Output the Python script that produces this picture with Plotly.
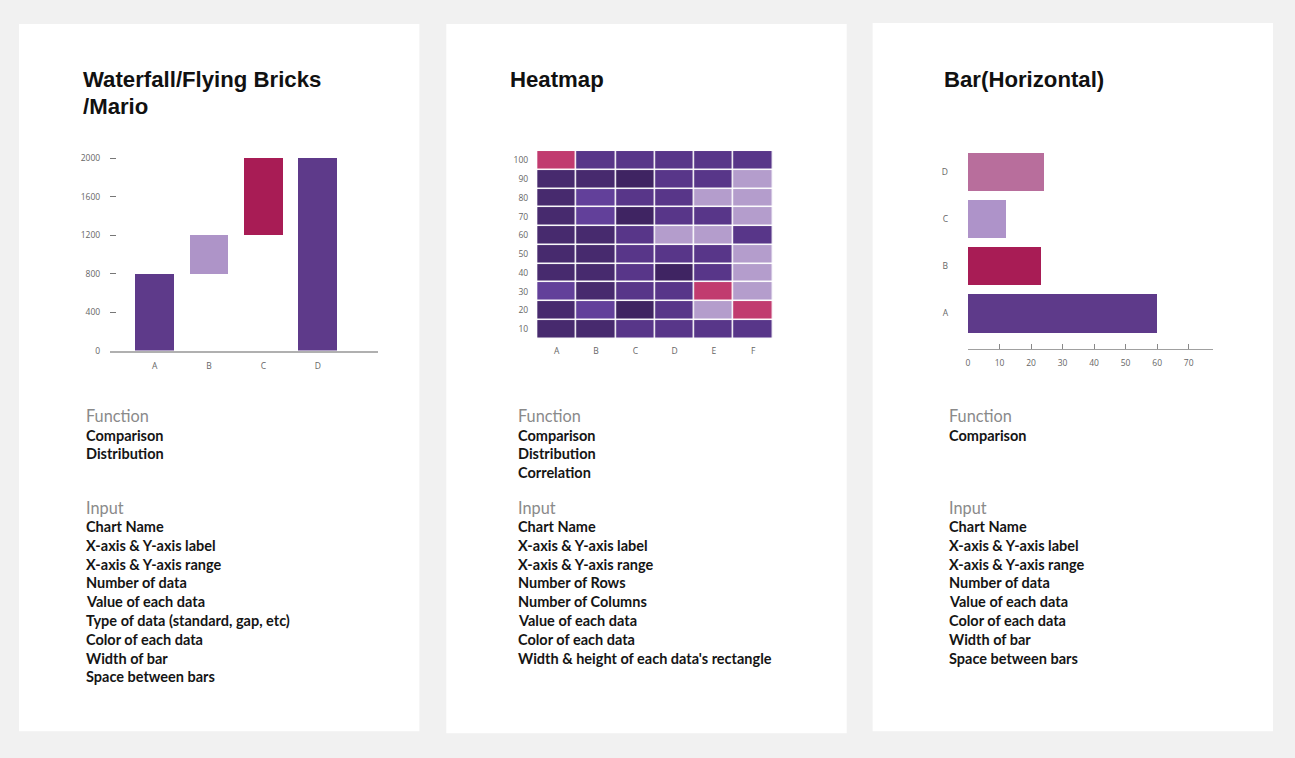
import plotly.graph_objects as go

# ---------------- data ----------------
wf_categories = ["A", "B", "C", "D"]
wf_measures = ["relative", "relative", "relative", "total"]
wf_values = [800, 400, 800, 0]
wf_colors = ["#5e3a8a", "#ae94c8", "#a81c55", "#5e3a8a"]
wf_yticks = [0, 400, 800, 1200, 1600, 2000]

hm_columns = ["A", "B", "C", "D", "E", "F"]
hm_rows = [10, 20, 30, 40, 50, 60, 70, 80, 90, 100]
# colour level of each cell (0 darkest purple ... 4 lavender, 5 pink), rows bottom (10) to top (100)
hm_r10 = [1, 1, 2, 2, 2, 2]
hm_r20 = [1, 3, 0, 2, 4, 5]
hm_r30 = [3, 1, 2, 2, 5, 4]
hm_r40 = [1, 1, 2, 0, 2, 4]
hm_r50 = [1, 1, 2, 2, 2, 4]
hm_r60 = [1, 1, 2, 4, 4, 2]
hm_r70 = [1, 3, 0, 2, 2, 4]
hm_r80 = [1, 3, 2, 2, 4, 4]
hm_r90 = [1, 1, 0, 2, 2, 4]
hm_r100 = [5, 2, 2, 2, 2, 2]
hm_level_colors = ["#3f2462", "#472a6e", "#583689", "#62409a", "#b49dcc", "#c13b6f"]

hb_categories = ["A", "B", "C", "D"]
hb_values = [60, 23, 12, 24]
hb_colors = ["#5e3a8a", "#a81c55", "#ae93c9", "#b86e9c"]

titles = [["Waterfall/Flying Bricks", "/Mario"], ["Heatmap"], ["Bar(Horizontal)"]]
functions = [["Comparison", "Distribution"],
             ["Comparison", "Distribution", "Correlation"],
             ["Comparison"]]
inputs = [["Chart Name", "X-axis & Y-axis label", "X-axis & Y-axis range", "Number of data",
           "Value of each data", "Type of data (standard, gap, etc)", "Color of each data",
           "Width of bar", "Space between bars"],
          ["Chart Name", "X-axis & Y-axis label", "X-axis & Y-axis range", "Number of Rows",
           "Number of Columns", "Value of each data", "Color of each data",
           "Width & height of each data's rectangle"],
          ["Chart Name", "X-axis & Y-axis label", "X-axis & Y-axis range", "Number of data",
           "Value of each data", "Color of each data", "Width of bar", "Space between bars"]]

# ---------------- layout helpers ----------------
W, H = 1295, 758
K = 0.9932  # vertical correction of the capture
def fx(x):
    return x / W
def fy(y):
    return 1 - (y / K) / H

fig = go.Figure()

# waterfall built from measures
bases, heights = [], []
running = 0
for m, v in zip(wf_measures, wf_values):
    if m == "total":
        bases.append(0)
        heights.append(running)
    else:
        bases.append(running)
        heights.append(v)
        running += v

fig.add_trace(go.Bar(x=wf_categories, y=heights, base=bases, width=0.71,
                     marker=dict(color=wf_colors, line=dict(width=0)),
                     xaxis="x", yaxis="y", showlegend=False, hoverinfo="skip"))

hm_z = [hm_r10, hm_r20, hm_r30, hm_r40, hm_r50, hm_r60, hm_r70, hm_r80, hm_r90, hm_r100]
n = len(hm_level_colors)
cs = []
for i, c in enumerate(hm_level_colors):
    cs.append([i / n, c])
    cs.append([(i + 1) / n, c])
fig.add_trace(go.Heatmap(z=hm_z, x=hm_columns, y=hm_rows, colorscale=cs,
                         zmin=-0.5, zmax=n - 0.5, showscale=False, xgap=1.5, ygap=1.5,
                         xaxis="x2", yaxis="y2", hoverinfo="skip"))

fig.add_trace(go.Bar(y=hb_categories, x=hb_values, orientation="h", width=0.82,
                     marker=dict(color=hb_colors, line=dict(width=0)),
                     xaxis="x3", yaxis="y3", showlegend=False, hoverinfo="skip"))

tickfont = dict(family="Open Sans", size=8.5, color="#666666")

# waterfall axes: plot px x 108-377, y 150-350.5 ; 0->350.5, 2000->158.3
wf_px_per = (350.5 - 158.3) / 2000
wf_top = 2000 + (158.3 - 150) / wf_px_per
hb_x0 = 967.5
fig.update_layout(
    xaxis=dict(domain=[fx(108.3), fx(376.7)], range=[-0.817, 4.11], showgrid=False,
               zeroline=False, showline=True, linecolor="#b0b0b0", linewidth=1.5,
               ticks="", tickfont=tickfont, anchor="y", ticklabelstandoff=6,
               type="category"),
    yaxis=dict(domain=[fy(350.5), fy(150)], range=[0, wf_top], showgrid=False,
               zeroline=False, showline=False, tickvals=wf_yticks, ticks="inside",
               ticklen=6, tickcolor="#777777", tickwidth=1, tickfont=tickfont,
               anchor="x", ticklabelstandoff=9),
    xaxis2=dict(domain=[fx(536), fx(772)], range=[-0.5, 5.5], showgrid=False, zeroline=False,
                showline=False, ticks="", tickfont=tickfont, anchor="y2",
                ticklabelstandoff=6),
    yaxis2=dict(domain=[fy(338.5), fy(151)], range=[5, 105], showgrid=False, zeroline=False,
                showline=False, ticks="", tickvals=hm_rows, tickfont=tickfont, anchor="x2",
                ticklabelstandoff=8),
    xaxis3=dict(domain=[fx(hb_x0), fx(1213)], range=[0, (1213 - hb_x0) / 3.157],
                showgrid=False, zeroline=False, showline=True, linecolor="#a0a0a0",
                linewidth=1, ticks="inside", ticklen=5, tickcolor="#888888", tickwidth=1,
                dtick=10, tick0=0, tickfont=tickfont, anchor="y3", ticklabelstandoff=6),
    yaxis3=dict(domain=[fy(349), fy(145)], range=[-0.76, 3.57], showgrid=False,
                zeroline=False, showline=False, ticks="", tickfont=tickfont,
                anchor="x3", ticklabelstandoff=19, type="category"),
)

# cards
shapes = []
for (x0, y0, x1, y1) in [(17, 24, 418, 731), (445, 24, 846, 733), (872, 23, 1273, 731)]:
    shapes.append(dict(type="rect", xref="paper", yref="paper", x0=fx(x0), x1=fx(x1),
                       y0=fy(y1), y1=fy(y0), fillcolor="#ffffff", line=dict(width=0),
                       layer="below"))

annotations = []
title_x = [79, 507, 941]
body_x = [82, 515, 946]
for i in range(3):
    for j, t in enumerate(titles[i]):
        annotations.append(dict(text="<b>" + t + "</b>", x=fx(title_x[i]), y=fy(79 + 27 * j),
                                xref="paper", yref="paper", xanchor="left", yanchor="middle",
                                showarrow=False,
                                font=dict(family="Liberation Sans", size=22.2, color="#111111")))
    annotations.append(dict(text="Function", x=fx(body_x[i]), y=fy(415), xref="paper",
                            yref="paper", xanchor="left", yanchor="middle", showarrow=False,
                            font=dict(family="Lato", size=16.3, color="#8a8a8a")))
    for j, t in enumerate(functions[i]):
        annotations.append(dict(text="<b>" + t + "</b>", x=fx(body_x[i]), y=fy(435 + 18.8 * j),
                                xref="paper", yref="paper", xanchor="left", yanchor="middle",
                                showarrow=False,
                                font=dict(family="Lato", size=14.5, color="#151515")))
    annotations.append(dict(text="Input", x=fx(body_x[i]), y=fy(507), xref="paper",
                            yref="paper", xanchor="left", yanchor="middle", showarrow=False,
                            font=dict(family="Lato", size=16.3, color="#8a8a8a")))
    for j, t in enumerate(inputs[i]):
        annotations.append(dict(text="<b>" + t + "</b>", x=fx(body_x[i]), y=fy(526.3 + 18.8 * j),
                                xref="paper", yref="paper", xanchor="left", yanchor="middle",
                                showarrow=False,
                                font=dict(family="Lato", size=14.5, color="#151515")))

fig.update_layout(width=W, height=H, margin=dict(l=0, r=0, t=0, b=0),
                  paper_bgcolor="#f1f1f1", plot_bgcolor="rgba(0,0,0,0)",
                  shapes=shapes, annotations=annotations, showlegend=False,
                  bargap=0)

post = ("document.documentElement.style.margin='0px';"
        "document.documentElement.style.padding='0px';"
        "document.documentElement.style.overflow='hidden';"
        "document.documentElement.style.height='758px';"
        "document.body.style.margin='0px';"
        "document.body.style.padding='0px';"
        "document.body.style.background='#f1f1f1';"
        "document.body.style.overflow='hidden';"
        "document.body.style.height='758px';"
        "var gd=document.getElementById('{plot_id}');"
        "gd.parentElement.style.height='758px';"
        "gd.parentElement.style.overflow='hidden';")

fig.write_html("out.html", config={"displayModeBar": False}, post_script=post)
